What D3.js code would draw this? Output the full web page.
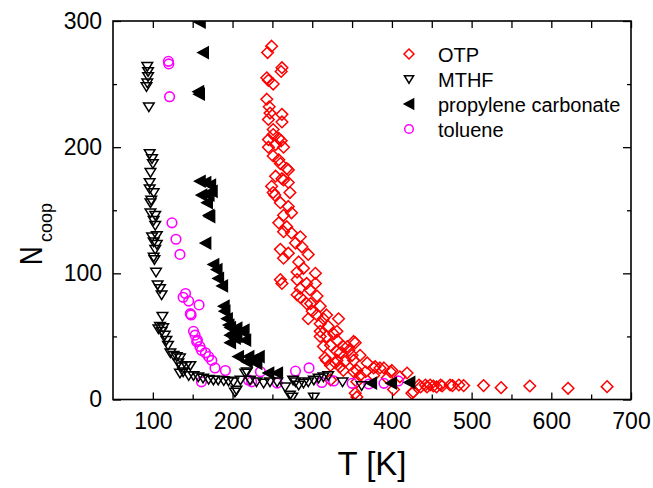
<!DOCTYPE html>
<html>
<head>
<meta charset="utf-8">
<script src="https://cdn.jsdelivr.net/npm/d3@7"></script>
<style>
body { margin: 0; background: #fff; }
svg text { font-family: "Liberation Sans", Arial, Helvetica, sans-serif; fill: #000; }
</style>
</head>
<body>
<svg id="chart"></svg>
<script>
const width = 653;
const height = 488;
const margin = {left: 113, right: 22, top: 21, bottom: 88.5};

// data: [T in K, N_coop]
const otpData = [
  [249,280],[244,275],[262,263],[261,260],[243,255],[245,253],[251,250],[243,238],[246,232],[247,227],
  [262,226],[245,222],[262,220],[251,214],[251,210],[245,206],[258,207],[261,205],[245,200],[254,202],
  [264,200],[251,193],[258,190],[260,187],[270,182],[254,177],[262,175],[270,172],[249,169],[251,164],
  [272,164],[264,174],[268,183],[253,162],[260,156],[270,153],[274,148],[264,146],[258,140],[268,137],
  [264,133],[274,132],[285,129],[279,124],[260,119],[287,121],[270,116],[295,115],[264,112],[283,109],
  [289,104],[281,101],[304,100],[260,95],[262,92],[281,95],[293,92],[304,92],[285,88],[297,87],
  [281,83],[285,81],[306,82],[298,76],[310,74],[293,76],[300,70],[295,64],[306,67],[318,67],
  [314,64],[333,64],[310,60],[320,58],[331,54],[310,54],[318,50],[331,47],[310,50],[352,46],
  [323,43],[339,42],[314,42],[327,52],[354,45],[344,42],[331,38],[346,39],[350,35],[360,35],
  [335,37],[316,33],[331,31],[341,30],[352,31],[318,31],[323,27],[335,26],[329,29],[369,29],
  [379,26],[390,25],[356,23],[367,22],[400,23],[339,23],[352,22],[377,19],[419,21],[410,18],
  [394,17],[360,19],[377,25],[385,25],[398,22],[356,14],[323,15.5],[354,5],[356,2],[427,6],
  [425,5],[402,8],[434,11.5],[436,10],[442,11.5],[444,10],[448,11.5],[452,10.7],[456,10],[461,11.5],
  [463,10.7],[473,11.5],[476,11],[484,11.5],[490,11],[515,11],[537,9.4],[573,10.7],[621,8.9],[670,10.2]
];

const mthfData = [
  [93,264],[94,260],[94,256],[93,251],[92,248],[95,232],
  [96,195],[99,191],[100,187],[97,180],[96,172],[96,167],[101,164],[98,158],
  [97,156],[97,148],[103,146],[101,142],[103,138],[99,129],[105,130],[101,125],[105,123],[103,119],
  [101,113],[102,111],[104,101],[106,91],[109,88],[111,83],[112,66],[109,58],[113,57],[107,56],
  [111,54],[115,51],[117,47],[119,43],[122,37],[126,35],[130,34],[134,33],[132,29],[136,26],
  [138,22],[142,27],[147,27],[134,21],[145,19],[151,19],[157,18],[163,17],[170,16],[176,15.5],
  [182,15.5],[189,15],[195,14.7],[201,14],[203,6],[205,7.5],[210,15.5],[218,22],[216,21],[222,15.5],
  [230,14],[239,13],[247,14],[256,14],[266,10],[272,3.6],[279,14],[276,15.5],[283,11.5],[289,13],
  [295,14],[302,15.5],[308,17],[314,18],[320,19],[275,2],[302,2],[338,14],[362,11]
];

const pcData = [
  [159,299],[163,275],[157,244],[158,242],[159,173],[166,172],[172,170],[174,165],[170,162],[161,162],
  [168,156],[170,146],[171,145],[166,124],[176,107],[180,103],[182,96],[187,90],[189,74],[190,70],
  [193,64],[197,57],[195,59],[201,52.5],[205,56.5],[205,50],[212,54],[214,55],[216,47],[197,51],
  [203,48.6],[197,45],[207,34],[220,34],[233,34],[218,30],[224,31],[230,28.6],[245,21],[256,21],
  [374,13],[399,13],[422,13.5]
];

const tolueneData = [
  [119.5,268],[120,266],[121,240],[124,140],[129,127],[134,115],[141,84],[138,81],[145,78],[147,68],
  [148,67],[158,75],[151,54],[153,51],[155,46],[156,47],[159,42],[161,39],[166,37],[170,34],
  [174,31],[178,25],[191,23],[161,14],[220,15.5],[224,14],[235,22],[256,13],[279,22.5],[296,25],
  [312,13.5],[327,14.7],[350,12.8],[371,12.3],[390,12.8],[408,14.7]
];

const xTicks = [100, 200, 300, 400, 500, 600, 700];
const xMinorTicks = [150, 250, 350, 450, 550, 650];
const yTicks = [0, 100, 200, 300];
const yMinorTicks = [50, 150, 250];
const legendNames = ["OTP", "MTHF", "propylene carbonate", "toluene"];

// marker shapes
const diamond = "M0,-5.8L5.8,0L0,5.8L-5.8,0Z";
const triDown = "M-5.3,-3.8L5.3,-3.8L0,4.8Z";
const triLeft = "M-5.2,0L5.2,-5.6L5.2,5.6Z";

const svg = d3.select("#chart")
  .attr("width", width)
  .attr("height", height);

var x = d3.scaleLinear().domain([50, 700]).range([margin.left, width - margin.right]);
var y = d3.scaleLinear().domain([0, 300]).range([height - margin.bottom, margin.top]);

const plotH = height - margin.bottom - margin.top;
const plotW = width - margin.right - margin.left;

svg.append("clipPath").attr("id", "plotclip")
  .append("rect")
  .attr("x", margin.left).attr("y", margin.top)
  .attr("width", plotW).attr("height", plotH);

// axes: bottom with labels, top mirrored, ticks pointing inside
svg.append("g")
  .attr("transform", `translate(0,${height - margin.bottom})`)
  .call(d3.axisBottom(x).tickValues(xTicks).tickSizeInner(-7).tickSizeOuter(0).tickPadding(13))
  .call(g => g.selectAll("text").attr("font-size", 23).attr("font-family", null));
svg.append("g")
  .attr("transform", `translate(0,${height - margin.bottom})`)
  .call(d3.axisBottom(x).tickValues(xMinorTicks).tickSizeInner(-5).tickSizeOuter(0).tickFormat(""));
svg.append("g")
  .attr("transform", `translate(0,${margin.top})`)
  .call(d3.axisTop(x).tickValues(xTicks.concat(xMinorTicks)).tickSizeInner(-7).tickSizeOuter(0).tickFormat(""));

svg.append("g")
  .attr("transform", `translate(${margin.left},0)`)
  .call(d3.axisLeft(y).tickValues(yTicks).tickSizeInner(-8).tickSizeOuter(0).tickPadding(11))
  .call(g => g.selectAll("text").attr("font-size", 23).attr("font-family", null));
svg.append("g")
  .attr("transform", `translate(${margin.left},0)`)
  .call(d3.axisLeft(y).tickValues(yMinorTicks).tickSizeInner(-4).tickSizeOuter(0).tickFormat(""));
svg.append("g")
  .attr("transform", `translate(${width - margin.right},0)`)
  .call(d3.axisRight(y).tickValues(yTicks).tickSizeInner(-8).tickSizeOuter(0).tickFormat(""));
svg.append("g")
  .attr("transform", `translate(${width - margin.right},0)`)
  .call(d3.axisRight(y).tickValues(yMinorTicks).tickSizeInner(-4).tickSizeOuter(0).tickFormat(""));

svg.selectAll(".domain").remove();
svg.selectAll(".tick line").attr("stroke", "#000").attr("stroke-width", 1.3);

// series, drawn in an order so black marks sit on top
var plot = svg.append("g").attr("clip-path", "url(#plotclip)");

function drawSeries(data, shape, stroke, fill) {
  plot.append("g")
    .selectAll("path")
    .data(data)
    .enter().append("path")
    .attr("d", shape)
    .attr("transform", d => `translate(${x(d[0])},${y(d[1])})`)
    .attr("fill", fill)
    .attr("stroke", stroke)
    .attr("stroke-width", 1.5);
}
function drawCircles(data, stroke) {
  plot.append("g")
    .selectAll("circle")
    .data(data)
    .enter().append("circle")
    .attr("cx", d => x(d[0]))
    .attr("cy", d => y(d[1]))
    .attr("r", 4.8)
    .attr("fill", "none")
    .attr("stroke", stroke)
    .attr("stroke-width", 1.6);
}

drawSeries(otpData, diamond, "#ff0000", "none");
drawCircles(tolueneData, "#ff00ff");
drawSeries(pcData, triLeft, "#000", "#000");
drawSeries(mthfData, triDown, "#000", "none");

// frame
svg.append("rect")
  .attr("x", margin.left)
  .attr("y", margin.top)
  .attr("width", plotW)
  .attr("height", plotH)
  .attr("fill", "none")
  .attr("stroke", "#000")
  .attr("stroke-width", 1.6);

// legend
const legendX = 409;
const legendY = [54, 79, 104, 129];
const legendShapes = [
  {d: "M0,-5L5,0L0,5L-5,0Z", stroke: "#ff0000", fill: "none"},
  {d: "M-4.6,-3.3L4.6,-3.3L0,4.2Z", stroke: "#000", fill: "none"},
  {d: "M-4.6,0L4.6,-5L4.6,5Z", stroke: "#000", fill: "#000"},
  null
];
legendNames.forEach((name, i) => {
  if (legendShapes[i]) {
    svg.append("path")
      .attr("d", legendShapes[i].d)
      .attr("transform", `translate(${legendX},${legendY[i]})`)
      .attr("fill", legendShapes[i].fill)
      .attr("stroke", legendShapes[i].stroke)
      .attr("stroke-width", 1.5);
  } else {
    svg.append("circle")
      .attr("cx", legendX).attr("cy", legendY[i]).attr("r", 4.3)
      .attr("fill", "none").attr("stroke", "#ff00ff").attr("stroke-width", 1.5);
  }
  svg.append("text")
    .attr("x", 438)
    .attr("y", legendY[i] + 7.5)
    .attr("font-size", 20)
    .text(name);
});

// axis titles
svg.append("text")
  .attr("x", (margin.left + width - margin.right) / 2)
  .attr("y", 475)
  .attr("text-anchor", "middle")
  .attr("font-size", 33)
  .text("T [K]");

svg.append("text")
  .attr("transform", "translate(42,265) rotate(-90) scale(0.8,1)")
  .attr("font-size", 32)
  .text("N");
svg.append("text")
  .attr("transform", "translate(52,242) rotate(-90)")
  .attr("font-size", 18)
  .text("coop");
</script>
</body>
</html>
